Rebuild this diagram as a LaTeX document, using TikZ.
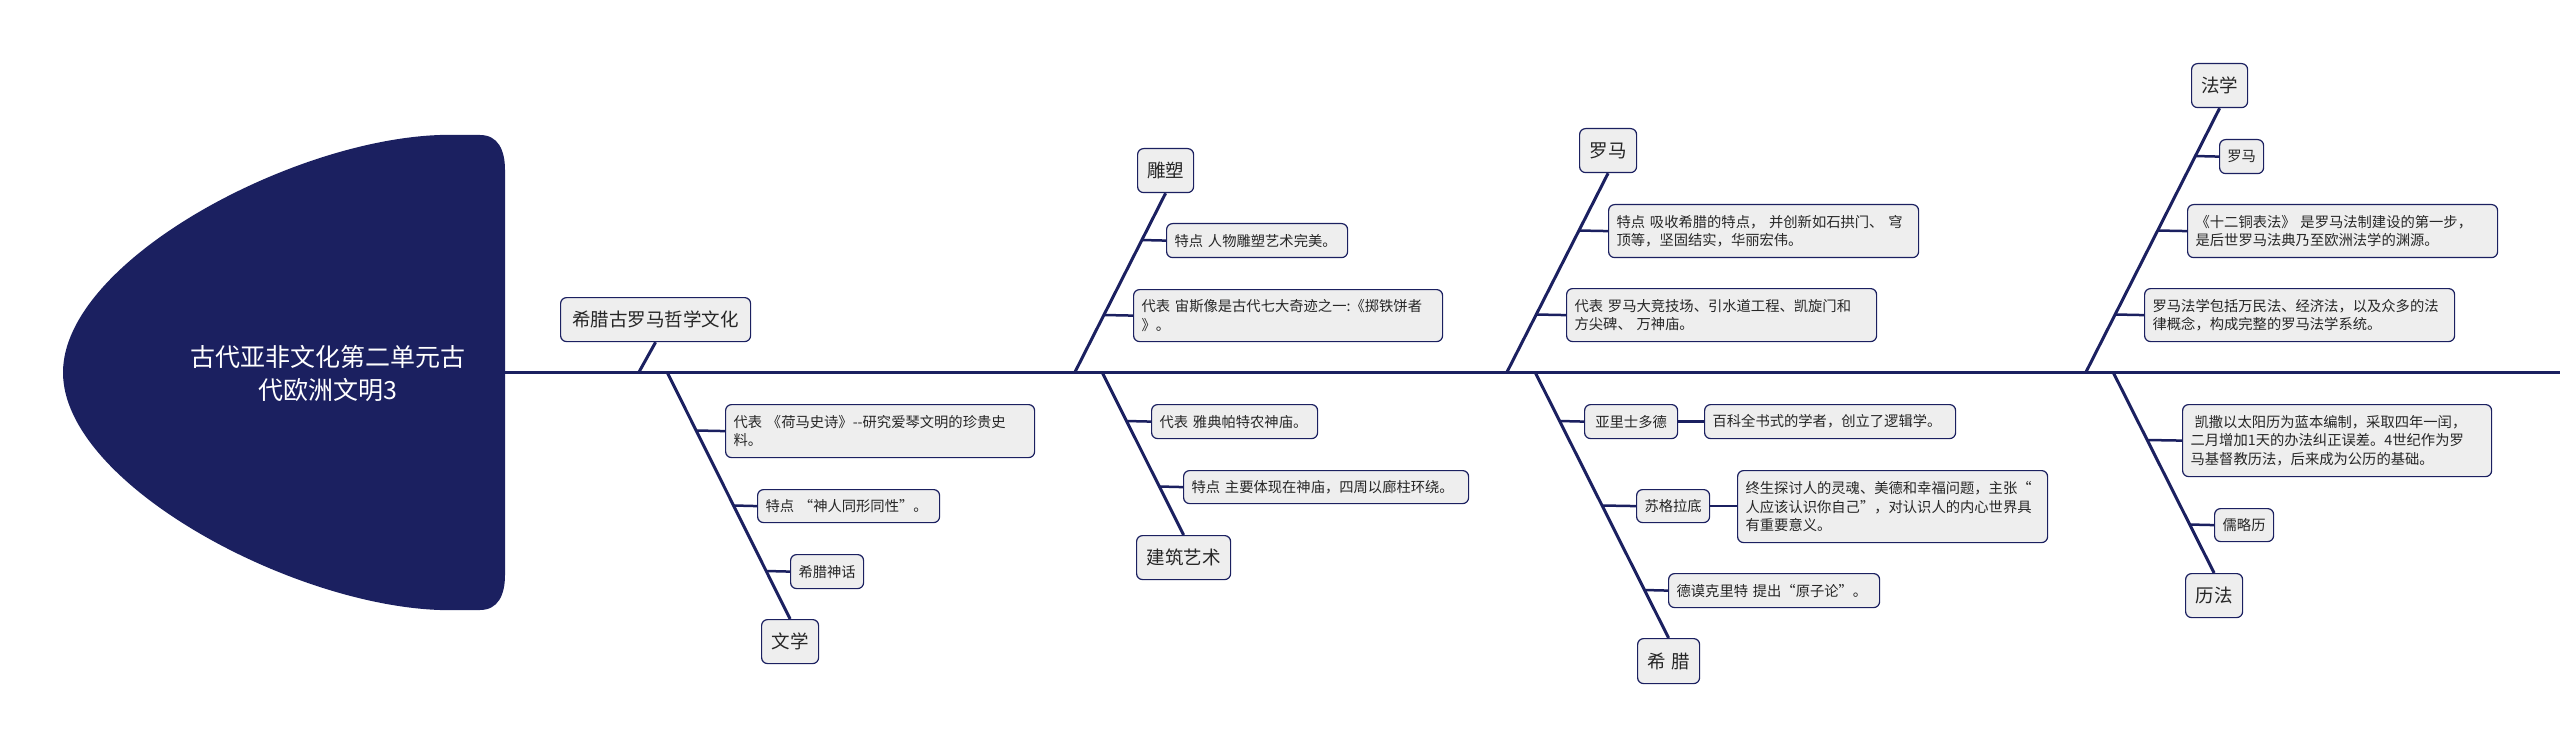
\documentclass[tikz,border=0pt]{standalone}
\usepackage{fontspec}
\setmainfont{Noto Sans CJK SC}
\definecolor{navy}{HTML}{1B2060}
\definecolor{boxgray}{HTML}{EEEEEE}
\definecolor{txt}{HTML}{262626}
\tikzset{
  bx/.style={draw=navy, line width=1.2pt, fill=boxgray, rounded corners=6pt, text=txt,
    font=\fontsize{14.3}{18.5}\selectfont, inner xsep=8pt, inner ysep=2pt,
    align=left, anchor=north west},
  cbx/.style={bx, inner xsep=0pt, align=center},
  mbx/.style={bx, font=\fontsize{18.5}{22}\selectfont, inner xsep=0pt, align=center},
  ln/.style={draw=navy, line width=3pt},
  sl/.style={draw=navy, line width=2.5pt},
}
\begin{document}
\begin{tikzpicture}[x=1pt,y=-1pt]
\useasboundingbox (0,0) rectangle (2560,746);
% head
\fill[navy] (440,135) -- (480,135) .. controls (498,135) and (505,150) .. (505,170)
  -- (505,575) .. controls (505,595) and (498,610) .. (480,610) -- (440,610)
  .. controls (290,605) and (63,483) .. (63,372.5)
  .. controls (63,262) and (290,140) .. (440,135) -- cycle;
\node[font=\fontsize{25}{33}\selectfont, text=white, align=center] (title) at (328,373) {古代亚非文化第二单元古\\代欧洲文明3};
\coordinate (headR) at (505,372);
\coordinate (spineEnd) at (2560,372);
\draw[ln] (headR) -- (spineEnd);

% ---------- branch 1
\node[mbx, minimum width=190pt, minimum height=44pt, text width=190pt] (t1) at (560,297) {希腊古罗马哲学文化};
\coordinate (s1) at (639,372);
\draw[ln] (t1.south) -- (s1);
\node[mbx, minimum width=57pt, minimum height=44pt, text width=57pt] (lit) at (761,619) {文学};
\coordinate (s1b) at (667,372);
\draw[ln] (s1b) -- (lit.north);
\node[bx, minimum width=309pt, minimum height=53pt, text width=293pt] (lit1) at (725,404) {代表 《荷马史诗》-{}-研究爱琴文明的珍贵史\\料。};
\node[bx, minimum width=182pt, minimum height=33pt, text width=166pt] (lit2) at (757,489) {特点 “神人同形同性”。};
\node[cbx, minimum width=73pt, minimum height=34pt, text width=73pt] (lit3) at (790,554) {希腊神话};
\coordinate (c11) at (696,430.5);
\coordinate (c12) at (733.7,505.5);
\coordinate (c13) at (766,571);
\draw[sl] (c11) -- (lit1.west);
\draw[sl] (c12) -- (lit2.west);
\draw[sl] (c13) -- (lit3.west);

% ---------- branch 2
\node[mbx, minimum width=56pt, minimum height=44pt, text width=56pt] (sc) at (1137,148) {雕塑};
\coordinate (s2) at (1075,372);
\draw[ln] (sc.south) -- (s2);
\node[bx, minimum width=181pt, minimum height=34pt, text width=165pt] (sc1) at (1166,223) {特点 人物雕塑艺术完美。};
\node[bx, minimum width=309pt, minimum height=52pt, text width=293pt] (sc2) at (1133,289) {代表 宙斯像是古代七大奇迹之一:《掷铁饼者\\》。};
\coordinate (c21) at (1141,240);
\coordinate (c22) at (1103.5,315);
\draw[sl] (c21) -- (sc1.west);
\draw[sl] (c22) -- (sc2.west);
\node[mbx, minimum width=94pt, minimum height=44pt, text width=94pt] (ar) at (1136,535) {建筑艺术};
\coordinate (s2b) at (1102,372);
\draw[ln] (s2b) -- (ar.north);
\node[bx, minimum width=166pt, minimum height=34pt, text width=150pt] (ar1) at (1151,404) {代表 雅典帕特农神庙。};
\node[bx, minimum width=285pt, minimum height=33pt, text width=269pt] (ar2) at (1183,470) {特点 主要体现在神庙，四周以廊柱环绕。};
\coordinate (c23) at (1126,421);
\coordinate (c24) at (1159,486.5);
\draw[sl] (c23) -- (ar1.west);
\draw[sl] (c24) -- (ar2.west);

% ---------- branch 3
\node[mbx, minimum width=57pt, minimum height=44pt, text width=57pt] (rm) at (1579,128) {罗马};
\coordinate (s3) at (1507,372);
\draw[ln] (rm.south) -- (s3);
\node[bx, minimum width=310pt, minimum height=53pt, text width=294pt] (rm1) at (1608,204) {特点 吸收希腊的特点， 并创新如石拱门、 穹\\顶等，坚固结实，华丽宏伟。};
\node[bx, minimum width=310pt, minimum height=53pt, text width=294pt] (rm2) at (1566,288) {代表 罗马大竞技场、引水道工程、凯旋门和\\方尖碑、 万神庙。};
\coordinate (c31) at (1578,230.5);
\coordinate (c32) at (1535.9,314.5);
\draw[sl] (c31) -- (rm1.west);
\draw[sl] (c32) -- (rm2.west);
\node[mbx, minimum width=62pt, minimum height=45pt, text width=62pt] (gr) at (1637,638) {希 腊};
\coordinate (s3b) at (1535,372);
\draw[ln] (s3b) -- (gr.north);
\node[cbx, minimum width=93pt, minimum height=34pt, text width=93pt] (gr1) at (1584,404) {亚里士多德};
\node[bx, minimum width=251pt, minimum height=34pt, text width=235pt] (gr1b) at (1704,404) {百科全书式的学者，创立了逻辑学。};
\node[cbx, minimum width=73pt, minimum height=33pt, text width=73pt] (gr2) at (1636,489) {苏格拉底};
\node[bx, minimum width=310pt, minimum height=72pt, text width=294pt] (gr2b) at (1737,470) {终生探讨人的灵魂、美德和幸福问题，主张“\\人应该认识你自己”，对认识人的内心世界具\\有重要意义。};
\node[bx, minimum width=211pt, minimum height=34pt, text width=195pt] (gr3) at (1668,573) {德谟克里特 提出“原子论”。};
\coordinate (c33) at (1559.5,421);
\coordinate (c34) at (1601.75,505.5);
\coordinate (c35) at (1644,590);
\draw[sl] (c33) -- (gr1.west);
\draw[sl] (gr1.east) -- (gr1b.west);
\draw[sl] (c34) -- (gr2.west);
\draw[sl] (gr2.east) -- (gr2.east -| gr2b.west);
\draw[sl] (c35) -- (gr3.west);

% ---------- branch 4
\node[mbx, minimum width=56pt, minimum height=44pt, text width=56pt] (law) at (2191,63) {法学};
\coordinate (s4) at (2086,372);
\draw[ln] (law.south) -- (s4);
\node[cbx, minimum width=44pt, minimum height=34pt, text width=44pt] (law1) at (2219,139) {罗马};
\node[bx, minimum width=310pt, minimum height=53pt, text width=294pt] (law2) at (2187,204) {《十二铜表法》 是罗马法制建设的第一步，\\是后世罗马法典乃至欧洲法学的渊源。};
\node[bx, minimum width=310pt, minimum height=53pt, text width=294pt] (law3) at (2144,288) {罗马法学包括万民法、经济法，以及众多的法\\律概念，构成完整的罗马法学系统。};
\coordinate (c41) at (2194.4,156);
\coordinate (c42) at (2157,230.5);
\coordinate (c43) at (2114.9,314.5);
\draw[sl] (c41) -- (law1.west);
\draw[sl] (c42) -- (law2.west);
\draw[sl] (c43) -- (law3.west);
\node[mbx, minimum width=57pt, minimum height=44pt, text width=57pt] (cal) at (2185,573) {历法};
\coordinate (s4b) at (2113,372);
\draw[ln] (s4b) -- (cal.north);
\node[bx, minimum width=309pt, minimum height=72pt, text width=293pt] (cal1) at (2182,404) {\hspace{4pt}凯撒以太阳历为蓝本编制，采取四年一闰，\\二月增加1天的办法纠正误差。4世纪作为罗\\马基督教历法，后来成为公历的基础。};
\node[cbx, minimum width=59pt, minimum height=33pt, text width=59pt] (cal2) at (2214,508) {儒略历};
\coordinate (c44) at (2147,440);
\coordinate (c45) at (2189.25,524.5);
\draw[sl] (c44) -- (cal1.west);
\draw[sl] (c45) -- (cal2.west);
\end{tikzpicture}
\end{document}
